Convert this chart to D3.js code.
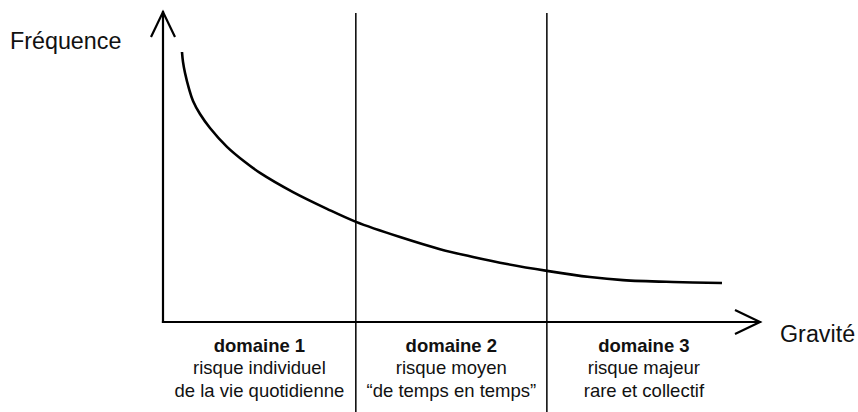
<!DOCTYPE html>
<html>
<head>
<meta charset="utf-8">
<script src="https://cdn.jsdelivr.net/npm/d3@7"></script>
<style>
  html, body { margin: 0; padding: 0; background: #fff; }
  svg { display: block; font-family: "Liberation Sans", Arial, Helvetica, sans-serif; }
</style>
</head>
<body>
<div id="chart"></div>
<script>
// curve: gravité (x) vs fréquence (y), both on a 0–100 schematic scale
const curveX = [3.18, 3.35, 3.69, 4.36, 5.03, 6.2, 7.87, 10.72, 13.74, 16.25, 21.78, 27.47, 32.33, 39.7, 46.4, 51.93, 57.62, 64.32, 71.52, 77.05, 85.43, 93.63];
const curveY = [87.1, 83.9, 80.3, 75.2, 71.3, 67.1, 62.6, 56.5, 51.6, 48.1, 41.9, 36.5, 32.3, 27.4, 23.5, 21.0, 18.7, 16.5, 14.5, 13.5, 12.9, 12.6];

// domain boundaries along the gravité axis
const bounds = [0, 32.3, 64.3, 96.8];
const domainTitles = ["domaine 1", "domaine 2", "domaine 3"];
const domainLine1 = ["risque individuel", "risque moyen", "risque majeur"];
const domainLine2 = ["de la vie quotidienne", "\u201cde temps en temps\u201d", "rare et collectif"];

const yLabel = "Fréquence";
const xLabel = "Gravité";

const W = 858, H = 412;
const svg = d3.select("#chart").append("svg").attr("width", W).attr("height", H);

const x = d3.scaleLinear().domain([0, 100]).range([163, 760]);
const y = d3.scaleLinear().domain([0, 100]).range([322, 12]);

// dividers between the domains
svg.append("g").selectAll("line").data(bounds.slice(1, 3)).join("line")
  .attr("x1", d => x(d)).attr("x2", d => x(d))
  .attr("y1", y(99.7)).attr("y2", H)
  .attr("stroke", "#000").attr("stroke-width", 1.5);

// axes
const axes = svg.append("g").attr("stroke", "#000").attr("fill", "none")
  .attr("stroke-width", 2.2).attr("stroke-linecap", "square");
axes.append("line").attr("x1", x(0)).attr("x2", x(0)).attr("y1", y(0)).attr("y2", y(100));
axes.append("line").attr("x1", x(0)).attr("x2", x(100)).attr("y1", y(0)).attr("y2", y(0));
// open chevron arrow heads
axes.append("path")
  .attr("stroke-linecap", "butt").attr("stroke-linejoin", "miter")
  .attr("d", `M${x(0) - 12},${y(100) + 25}L${x(0)},${y(100)}L${x(0) + 12},${y(100) + 25}`);
axes.append("path")
  .attr("stroke-linecap", "butt").attr("stroke-linejoin", "miter")
  .attr("d", `M${x(100) - 25},${y(0) - 12}L${x(100)},${y(0)}L${x(100) - 25},${y(0) + 12}`);

// curve
const pts = curveX.map((v, i) => [v, curveY[i]]);
svg.append("path").datum(pts)
  .attr("fill", "none").attr("stroke", "#000").attr("stroke-width", 2.6)
  .attr("d", d3.line().x(d => x(d[0])).y(d => y(d[1])).curve(d3.curveCatmullRom.alpha(0.5)));

// axis titles
svg.append("text").attr("x", 10).attr("y", 49)
  .attr("font-size", 23.3).attr("fill", "#111").text(yLabel);
svg.append("text").attr("x", 780).attr("y", 342)
  .attr("font-size", 23.3).attr("fill", "#111").text(xLabel);

// domain labels
const lab = svg.append("g").attr("text-anchor", "middle").attr("font-size", 18.5).attr("fill", "#111");
domainTitles.forEach((t, i) => {
  const cx = (x(bounds[i]) + x(bounds[i + 1])) / 2;
  lab.append("text").attr("x", cx).attr("y", 352).attr("font-weight", "bold").text(t);
  lab.append("text").attr("x", cx).attr("y", 374).text(domainLine1[i]);
  lab.append("text").attr("x", cx).attr("y", 397).text(domainLine2[i]);
});
</script>
</body>
</html>
